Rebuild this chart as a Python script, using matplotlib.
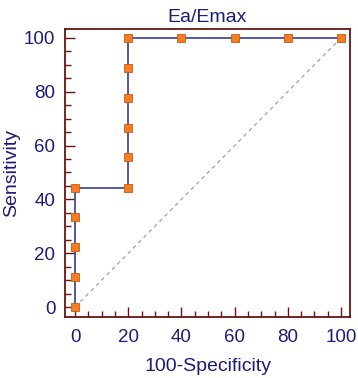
import numpy as np
import matplotlib.pyplot as plt
from matplotlib.ticker import MultipleLocator

fpr = [0, 0, 0, 0, 0, 20, 20, 20, 20, 20, 20, 40, 60, 80, 100]
tpr = [0, 11.1, 22.2, 33.3, 44.4, 44.4, 55.6, 66.7, 77.8, 88.9, 100, 100, 100, 100, 100]
diag = [0, 100]

navy = '#1c1c78'
frame = '#6a1414'

plt.rcParams['font.family'] = ['Liberation Sans', 'DejaVu Sans']

fig = plt.figure(figsize=(3.58, 3.78), dpi=100)
ax = fig.add_axes([0.1816, 0.1614, 0.7961, 0.7619])

ax.plot(diag, diag, color='#a0a0a0', lw=0.9, ls=(0, (3, 3)))
ax.plot(fpr, tpr, color='#4a4a9a', lw=1.3, marker='s', ms=5.5,
        mfc='#f57c1f', mec='#c85a10', mew=0.6)

ax.set_xlim(-3.8, 103.4)
ax.set_ylim(-3.7, 103.3)
ax.xaxis.set_major_locator(MultipleLocator(20))
ax.xaxis.set_minor_locator(MultipleLocator(5))
ax.yaxis.set_major_locator(MultipleLocator(20))
ax.yaxis.set_minor_locator(MultipleLocator(5))
ax.tick_params(which='both', direction='in', color=frame, labelcolor=navy,
               labelsize=13.5, top=False, right=False, width=1)
ax.tick_params(which='major', length=7)
ax.tick_params(which='minor', length=4)
ax.tick_params(axis='x', which='major', pad=9)
ax.tick_params(axis='y', which='major', pad=7)
for s in ax.spines.values():
    s.set_color(frame)
    s.set_linewidth(1.3)

ax.set_title('Ea/Emax', color=navy, fontsize=14, pad=5)
ax.set_xlabel('100-Specificity', color=navy, fontsize=14, labelpad=8)
ax.set_ylabel('Sensitivity', color=navy, fontsize=14, labelpad=3)

fig.savefig('out.png', dpi=100)
